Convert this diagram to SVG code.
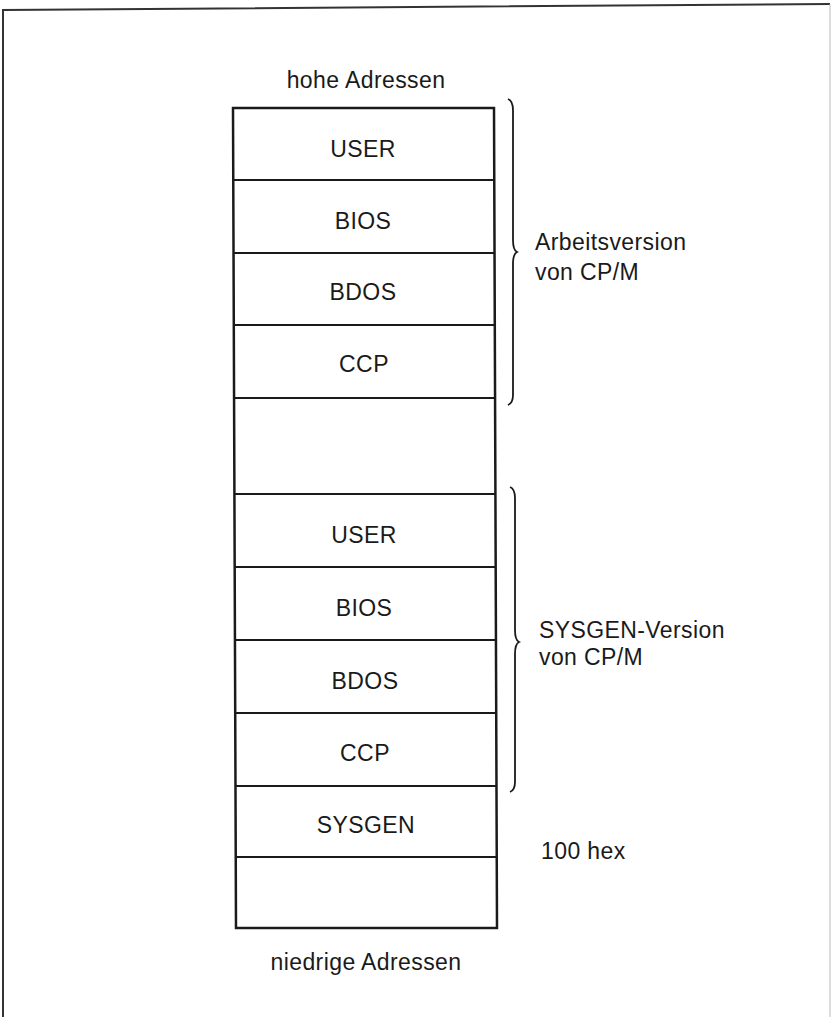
<svg xmlns="http://www.w3.org/2000/svg" width="834" height="1017" viewBox="0 0 834 1017">
<style>
text{font-family:"Liberation Sans",Arial,sans-serif;font-size:23px;letter-spacing:0.4px;fill:#1a1a1a}
.c{text-anchor:middle}
.box{fill:#fff;stroke:#1a1a1a;stroke-width:2.5}
.div{stroke:#1a1a1a;stroke-width:2.2}
.brace{fill:none;stroke:#1a1a1a;stroke-width:1.8}
.frame{fill:none;stroke:#333;stroke-width:2}
</style>
<rect width="834" height="1017" fill="#fff"/>
<g id="frame">
<path class="frame" d="M3,1017 L3,10 L830,4"/>
<path d="M830,4 L830,1017" stroke="#bbb" stroke-width="1" fill="none"/>
</g>
<text class="c" x="366" y="88">hohe Adressen</text>
<g id="stack">
<path class="box" d="M233,108 L494,108 L497,928 L236,928 Z"/>
</g>
<g id="dividers">
<line class="div" x1="233" y1="180" x2="494" y2="180"/>
<line class="div" x1="233" y1="253" x2="495" y2="253"/>
<line class="div" x1="233" y1="325" x2="495" y2="325"/>
<line class="div" x1="234" y1="398" x2="495" y2="398"/>
<line class="div" x1="234" y1="494" x2="495" y2="494"/>
<line class="div" x1="234" y1="567" x2="496" y2="567"/>
<line class="div" x1="235" y1="640" x2="496" y2="640"/>
<line class="div" x1="235" y1="713" x2="496" y2="713"/>
<line class="div" x1="235" y1="786" x2="496" y2="786"/>
<line class="div" x1="236" y1="857" x2="497" y2="857"/>
</g>
<g id="n-user1"><text class="c" x="363" y="157">USER</text></g>
<g id="n-bios1"><text class="c" x="363" y="229">BIOS</text></g>
<g id="n-bdos1"><text class="c" x="363" y="300">BDOS</text></g>
<g id="n-ccp1"><text class="c" x="364" y="372">CCP</text></g>
<g id="n-user2"><text class="c" x="364" y="543">USER</text></g>
<g id="n-bios2"><text class="c" x="364" y="616">BIOS</text></g>
<g id="n-bdos2"><text class="c" x="365" y="689">BDOS</text></g>
<g id="n-ccp2"><text class="c" x="365" y="761">CCP</text></g>
<g id="n-sysgen"><text class="c" x="366" y="833">SYSGEN</text></g>
<g id="braces">
<path class="brace" d="M508,99 Q513,101 513,110 L513,240 Q513,250 517,252 Q513,254 513,264 L513,395 Q513,403 508,405"/>
<path class="brace" d="M510,487 Q515,489 515,498 L515,630 Q515,640 519,642 Q515,644 515,654 L515,782 Q515,790 510,792"/>
</g>
<text x="535" y="250">Arbeitsversion</text>
<text x="535" y="280">von CP/M</text>
<text x="539" y="638">SYSGEN-Version</text>
<text x="539" y="665">von CP/M</text>
<text x="541" y="859">100 hex</text>
<text class="c" x="366" y="970">niedrige Adressen</text>
</svg>
